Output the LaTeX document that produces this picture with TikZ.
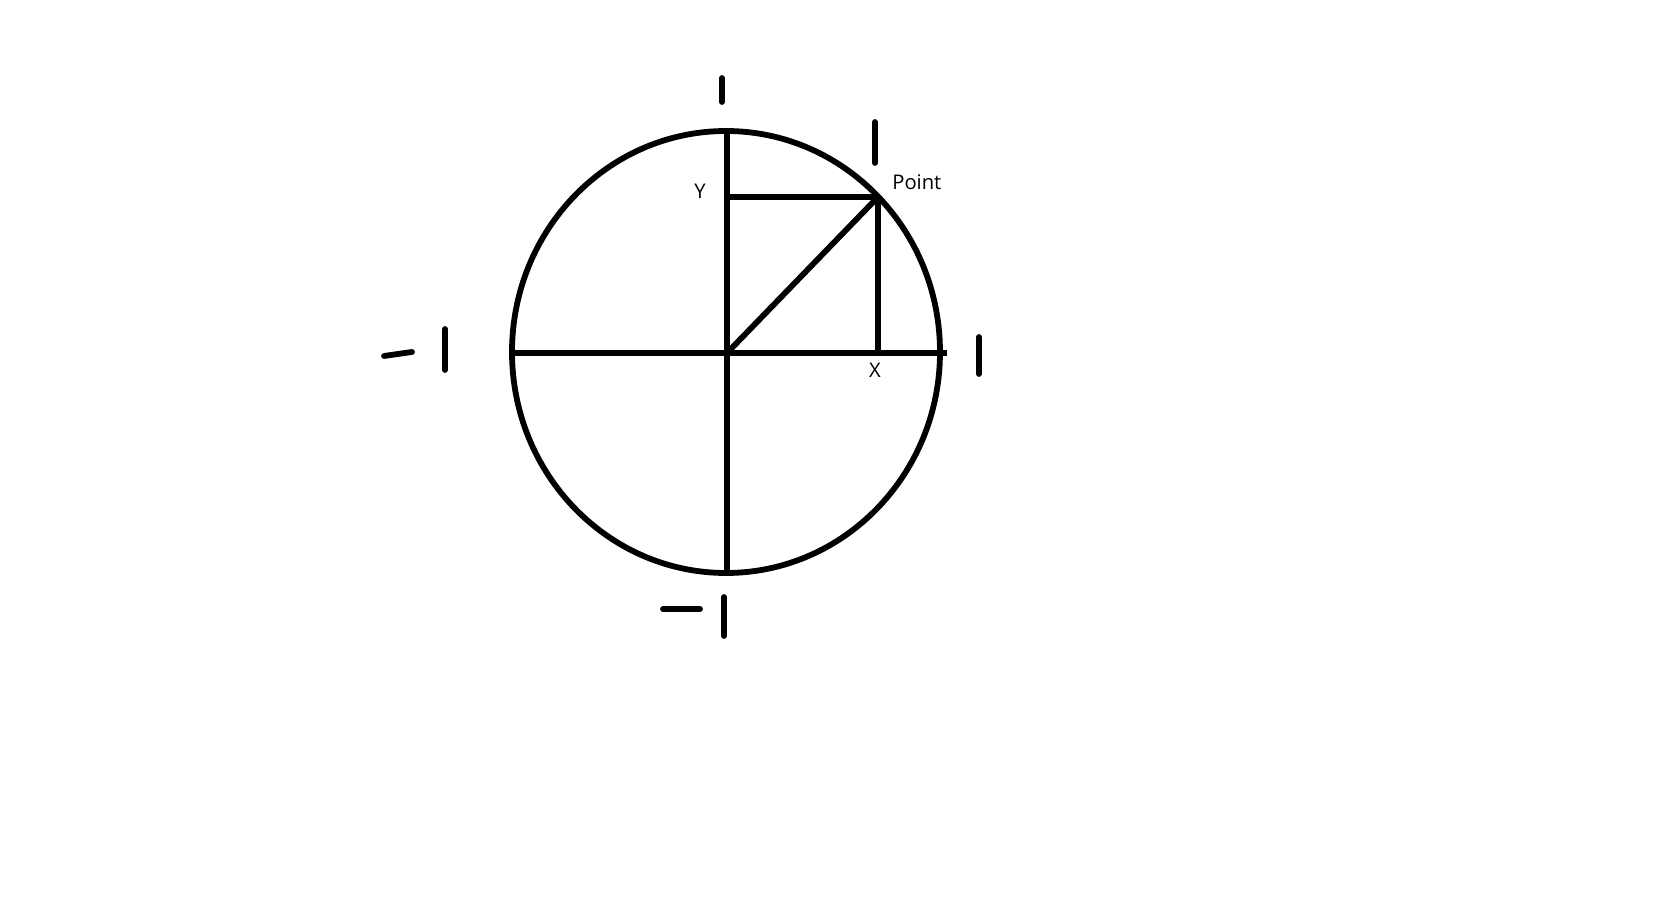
\documentclass[tikz,border=0pt]{standalone}
\usepackage{fontspec}
\setmainfont{Open Sans}
\tikzset{
  stroke/.style={line width=3.3pt},
  tick/.style={line width=3.3pt, line cap=round},
  lbl/.style={font=\fontsize{11.5}{13}\selectfont, inner sep=0pt}
}
\begin{document}
\begin{tikzpicture}[x=0.02cm,y=-0.02cm]
    \useasboundingbox (0,0) rectangle (1674,905);
    \coordinate (o) at (727,353);
    \coordinate (p) at (878,197);
    \coordinate (top) at (727,131);
    \coordinate (bot) at (727,574);
    \coordinate (left) at (512,353);
    \coordinate (right) at (947,353);
    \coordinate (py) at (727,197);
    \coordinate (px) at (878,353);
    \draw [stroke] (726,352) ellipse [x radius=214, y radius=221];
    \draw [stroke] (top) -- (bot);
    \draw [stroke] (left) -- (right);
    \draw [stroke] (py) -- (p);
    \draw [stroke] (p) -- (px);
    \draw [stroke] (o) -- (p);
    % ticks
    \draw [tick] (722,78) -- (722,102);
    \draw [tick] (875,122) -- (875,163);
    \draw [tick] (979,337) -- (979,374);
    \draw [tick] (445,329) -- (445,370);
    \draw [tick] (384,356) -- (412,352);
    \draw [tick] (724,597) -- (724,636);
    \draw [tick] (663,609) -- (700,609);
    \node [lbl] (ylbl) at (700,191) {Y};
    \node [lbl, anchor=base west] (plbl) at (892,190) {Point};
    \node [lbl] (xlbl) at (875,370) {X};
  \end{tikzpicture}
\end{document}
